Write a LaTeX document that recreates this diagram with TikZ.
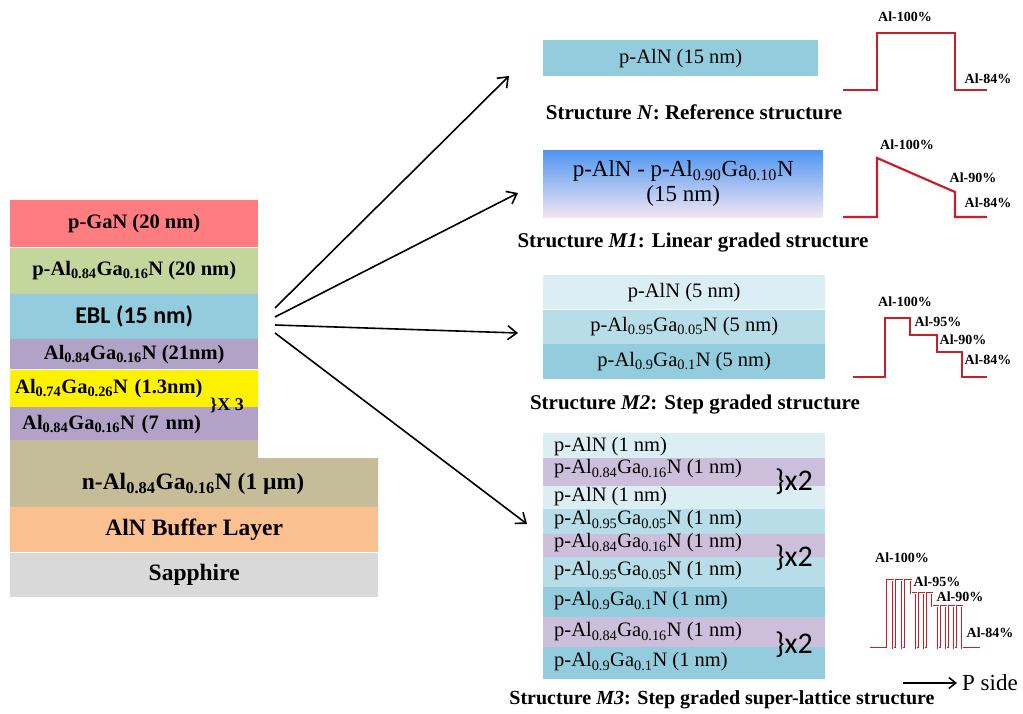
\documentclass[tikz,border=0pt]{standalone}
\usepackage{fontspec}
\setmainfont{Liberation Serif}
\newfontfamily\calibri{Carlito}
\usepackage{tikz}
\usetikzlibrary{positioning,arrows.meta}

\definecolor{ganred}{HTML}{FF7C80}
\definecolor{alganGreen}{HTML}{C3D69B}
\definecolor{eblBlue}{HTML}{93CDDD}
\definecolor{qbLav}{HTML}{B3A2C7}
\definecolor{nKhaki}{HTML}{C4BD97}
\definecolor{bufPeach}{HTML}{FAC090}
\definecolor{sapGray}{HTML}{D9D9D9}
\definecolor{slLight}{HTML}{DBEEF4}
\definecolor{slMid}{HTML}{B7DEE8}
\definecolor{slDark}{HTML}{93CDDD}
\definecolor{slLav}{HTML}{CDBFDB}
\definecolor{gradTop}{HTML}{4F95F0}
\definecolor{gradBot}{HTML}{F0E6F3}
\definecolor{profRed}{HTML}{C8202A}

\newcommand{\idx}[1]{\textsubscript{#1}}

\begin{document}
\begin{tikzpicture}[x=1pt,y=-1pt,
	every node/.style={inner sep=0pt},
	layer/.style={minimum width=248,font=\fontsize{20.5}{24}\selectfont\bfseries},
	base/.style={minimum width=368,font=\fontsize{23.5}{27}\selectfont\bfseries},
	band/.style={font=\fontsize{20.5}{24}\selectfont},
	slband/.style={anchor=north west,minimum width=282},
	captext/.style={font=\fontsize{21}{24}\selectfont\bfseries},
	pct/.style={font=\fontsize{14}{16}\selectfont\bfseries},
	prof/.style={profRed,line width=2.2pt},
	fanarrow/.style={-{Straight Barb[length=9pt,width=14pt]},line width=1.6pt}]
	\useasboundingbox (0,0) rectangle (1023,714);

	% layer stack
	\node[layer,anchor=north west,fill=ganred,minimum height=47] (pgan) at (10,200) {p-GaN (20 nm)};
	\node[layer,fill=alganGreen,minimum height=46,below=0pt of pgan] (palgan) {p-Al\idx{0.84}Ga\idx{0.16}N (20 nm)};
	\node[layer,fill=eblBlue,minimum height=45,below=0pt of palgan,font=\calibri\fontsize{24}{27}\selectfont\bfseries] (ebl) {EBL (15 nm)};
	\node[layer,fill=qbLav,minimum height=30,below=0pt of ebl] (qb1) {Al\idx{0.84}Ga\idx{0.16}N (21nm)};
	\node[layer,fill=yellow,minimum height=37,text width=238,align=left,below=0pt of qb1] (qw) {Al\idx{0.74}Ga\idx{0.26}N (1.3nm)};
	\node[layer,fill=qbLav,minimum height=35,text width=224,align=left,below=0pt of qw] (qb2) {Al\idx{0.84}Ga\idx{0.16}N (7 nm)};
	\node[font=\fontsize{18}{20}\selectfont\bfseries] (rep) at (227,405) {\}X 3};
	\fill[nKhaki] (10,440) -| (258,458) -| (378,507) -- (10,507) -- cycle;
	\node[base] (nalgan) at (193,484) {n-Al\idx{0.84}Ga\idx{0.16}N (1 µm)};
	\node[base,anchor=north west,fill=bufPeach,minimum height=45] (buf) at (10,507) {AlN Buffer Layer};
	\node[base,fill=sapGray,minimum height=44,below=0pt of buf] (sap) {Sapphire};

	% structure N
	\node[band,anchor=north west,fill=eblBlue,minimum width=275,minimum height=36] (strN) at (543,40) {p-AlN (15 nm)};
	\node[captext] (capN) at (694,112) {Structure \textit{N}: Reference structure};

	% structure M1
	\node[anchor=north west,minimum width=280,minimum height=67,top color=gradTop,bottom color=gradBot,align=center,font=\fontsize{23}{25}\selectfont] (strM1) at (543,150) {p-AlN - p-Al\idx{0.90}Ga\idx{0.10}N\\(15 nm)};
	\node[captext] (capM1) at (693,243) {Structure \textit{M1}: Linear graded structure};

	% structure M2
	\node[band,anchor=north west,fill=slLight,minimum width=282,minimum height=34] (m2a) at (543,275) {p-AlN (5 nm)};
	\node[band,fill=slMid,minimum width=282,minimum height=34,below=0pt of m2a] (m2b) {p-Al\idx{0.95}Ga\idx{0.05}N (5 nm)};
	\node[band,fill=slDark,minimum width=282,minimum height=35,below=0pt of m2b] (m2c) {p-Al\idx{0.9}Ga\idx{0.1}N (5 nm)};
	\node[captext] (capM2) at (695,405) {Structure \textit{M2}: Step graded structure};

	% structure M3
	\foreach \ya/\h/\col [count=\i] in {
		433/25/slLight, 458/28/slLav, 486/23/slLight,
		509/25/slMid, 534/23/slLav, 557/30/slMid,
		587/30/slDark, 617/30/slLav, 647/32/slDark}
		\node[slband,fill=\col,minimum height=\h] (sl\i) at (543,\ya) {};
	\foreach \y/\txt [count=\i] in {
		447/{p-AlN (1 nm)},
		469/{p-Al\idx{0.84}Ga\idx{0.16}N (1 nm)},
		497/{p-AlN (1 nm)},
		520/{p-Al\idx{0.95}Ga\idx{0.05}N (1 nm)},
		543/{p-Al\idx{0.84}Ga\idx{0.16}N (1 nm)},
		571/{p-Al\idx{0.95}Ga\idx{0.05}N (1 nm)},
		601/{p-Al\idx{0.9}Ga\idx{0.1}N (1 nm)},
		632/{p-Al\idx{0.84}Ga\idx{0.16}N (1 nm)},
		662/{p-Al\idx{0.9}Ga\idx{0.1}N (1 nm)}}
		\node[band,anchor=west] (slt\i) at (554,\y) {\txt};
	\foreach \y [count=\i] in {482,558,645}
		\node[font=\calibri\fontsize{30}{32}\selectfont] (twice\i) at (794,\y) {\}x2};
	\node[captext,font=\fontsize{20}{24}\selectfont\bfseries] (capM3) at (722,700) {Structure \textit{M3}: Step graded super-lattice structure};

	% arrows
	\coordinate (s1) at (275,308);
	\coordinate (s2) at (275,317);
	\coordinate (s3) at (275,325);
	\coordinate (s4) at (275,333);
	\coordinate (e1) at (509,76);
	\coordinate (e2) at (518,193);
	\coordinate (e3) at (518,333);
	\coordinate (e4) at (527,524);
	\draw[fanarrow] (s1) -- (e1);
	\draw[fanarrow] (s2) -- (e2);
	\draw[fanarrow] (s3) -- (e3);
	\draw[fanarrow] (s4) -- (e4);

	% Al profiles
	\draw[prof] (843,90) -- (877,90) |- (955,33) |- (987,90);
	\node[pct] (n100) at (905,17) {Al-100\%};
	\node[pct] (n84) at (988,79) {Al-84\%};

	\draw[prof] (843,217) -- (877,217) -- (877,158) -- (955,192) |- (987,217);
	\node[pct] (a100) at (907,145) {Al-100\%};
	\node[pct] (a90) at (973,178) {Al-90\%};
	\node[pct] (a84) at (988,203) {Al-84\%};

	\draw[prof] (853,377) -- (885,377) |- (910,318) |- (937,335) |- (962,352) |- (987,377);
	\node[pct] (b100) at (905,302) {Al-100\%};
	\node[pct] (b95) at (938,322) {Al-95\%};
	\node[pct] (b90) at (963,340) {Al-90\%};
	\node[pct] (b84) at (988,360) {Al-84\%};

	% super-lattice profile, outlined
	\draw[profRed,line width=2.8pt] (870,648) -- (887,648) |- (893,580) |- (896,648) |- (902,580) |- (905,648) |- (911,580) |- (916,593) |- (919,648) |- (924,593) |- (927,648) |- (932,593) |- (938,606) |- (941,648) |- (946,606) |- (949,648) |- (954,606) |- (957,648) |- (962,606) |- (980,648);
	\draw[white,line width=1pt] (870,648) -- (887,648) |- (893,580) |- (896,648) |- (902,580) |- (905,648) |- (911,580) |- (916,593) |- (919,648) |- (924,593) |- (927,648) |- (932,593) |- (938,606) |- (941,648) |- (946,606) |- (949,648) |- (954,606) |- (957,648) |- (962,606) |- (980,648);
	\node[pct] (c100) at (902,558) {Al-100\%};
	\node[pct] (c95) at (937,582) {Al-95\%};
	\node[pct] (c90) at (960,597) {Al-90\%};
	\node[pct] (c84) at (990,633) {Al-84\%};

	% P side
	\coordinate (pstart) at (903,683);
	\node[anchor=west,font=\fontsize{23}{26}\selectfont] (pside) at (962,683) {P side};
	\draw[-{Straight Barb[length=7pt,width=11pt]},line width=1.5pt,shorten >=5pt] (pstart) -- (pside.west);
\end{tikzpicture}
\end{document}
